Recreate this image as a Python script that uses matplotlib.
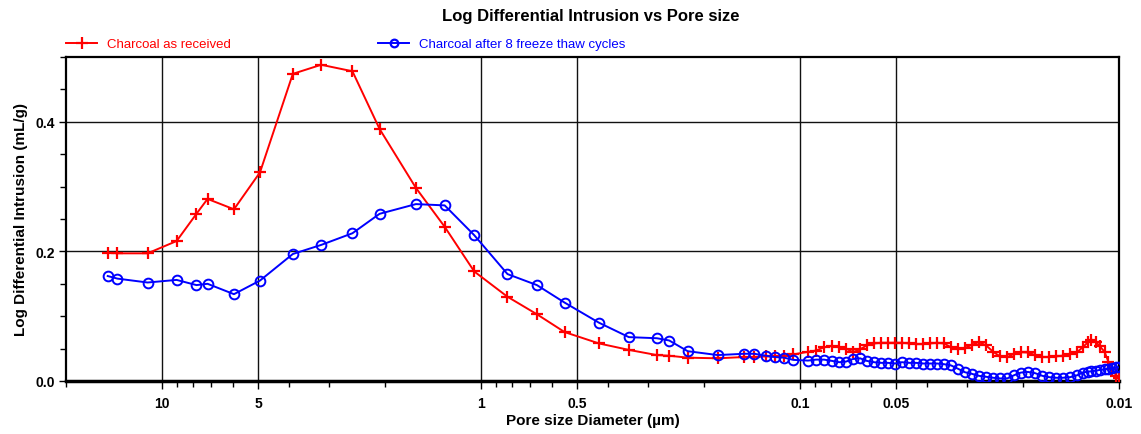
import matplotlib
matplotlib.use("Agg")
import matplotlib.pyplot as plt
from matplotlib.lines import Line2D
from matplotlib.ticker import FixedLocator, NullFormatter, MultipleLocator

plt.rcParams['font.family'] = ['Liberation Sans', 'DejaVu Sans']

title = "Log Differential Intrusion vs Pore size"
xlabel = "Pore size Diameter (µm)"
ylabel = "Log Differential Intrusion (mL/g)"
series_names = ["Charcoal as received", "Charcoal after 8 freeze thaw cycles"]

diameter = [14.8, 13.8, 11.1, 9.0, 7.8, 7.2, 5.95, 4.93, 3.89, 3.17, 2.53, 2.08,
            1.60, 1.30, 1.05, 0.826, 0.668, 0.547, 0.427, 0.344, 0.281, 0.257,
            0.225, 0.181, 0.150, 0.139, 0.128, 0.120, 0.112, 0.105,
            0.0944, 0.0891, 0.0841, 0.0793, 0.0754, 0.0717, 0.0682, 0.0648,
            0.0617, 0.0586, 0.0557, 0.0530, 0.0504, 0.0479, 0.0455, 0.0433,
            0.0411, 0.0391, 0.0372, 0.0354, 0.0336, 0.0320, 0.0304, 0.0289,
            0.0275, 0.0261, 0.0248, 0.0236, 0.0224, 0.0213, 0.0203, 0.0193,
            0.0183, 0.0174, 0.0166, 0.0158, 0.0150, 0.0142, 0.0135, 0.0130,
            0.0125, 0.0122, 0.0118, 0.0115, 0.0111, 0.0108, 0.0105, 0.0102,
            0.0100]

as_received = [0.198, 0.197, 0.197, 0.216, 0.258, 0.281, 0.265, 0.322, 0.474,
               0.488, 0.478, 0.389, 0.298, 0.238, 0.169, 0.130, 0.103, 0.0755,
               0.058, 0.048, 0.040, 0.039, 0.036, 0.035, 0.037, 0.037, 0.038,
               0.038, 0.039, 0.041,
               0.045, 0.047, 0.052, 0.054, 0.052, 0.050, 0.0445, 0.049,
               0.055, 0.058, 0.059, 0.059, 0.059, 0.059, 0.058, 0.057,
               0.057, 0.058, 0.059, 0.058, 0.052, 0.049, 0.051, 0.056,
               0.060, 0.055, 0.045, 0.038, 0.037, 0.042, 0.0445, 0.044,
               0.040, 0.037, 0.037, 0.038, 0.039, 0.042, 0.045, 0.052,
               0.060, 0.064, 0.060, 0.054, 0.045, 0.030, 0.019, 0.008,
               0.004]

after_freeze_thaw = [0.162, 0.158, 0.152, 0.156, 0.148, 0.150, 0.134, 0.155,
                     0.196, 0.210, 0.228, 0.258, 0.273, 0.271, 0.225, 0.165,
                     0.148, 0.121, 0.090, 0.0677, 0.066, 0.0625, 0.046, 0.040,
                     0.042, 0.042, 0.039, 0.037, 0.036, 0.0326,
                     0.0315, 0.033, 0.033, 0.031, 0.029, 0.030, 0.034, 0.035,
                     0.031, 0.029, 0.028, 0.028, 0.027, 0.029, 0.028, 0.028,
                     0.027, 0.027, 0.027, 0.026, 0.024, 0.019, 0.0135, 0.011,
                     0.008, 0.0065, 0.005, 0.004, 0.004, 0.009, 0.013, 0.014,
                     0.012, 0.008, 0.006, 0.005, 0.005, 0.006, 0.009, 0.013,
                     0.0145, 0.015, 0.016, 0.017, 0.018, 0.019, 0.020, 0.021,
                     0.021]

major_x = [10, 5, 1, 0.5, 0.1, 0.05, 0.01]
major_x_labels = ["10", "5", "1", "0.5", "0.1", "0.05", "0.01"]
minor_x = [20, 9, 8, 7, 6, 4, 3, 2, 0.9, 0.8, 0.7, 0.6, 0.4, 0.3, 0.2,
           0.09, 0.08, 0.07, 0.06, 0.04, 0.03, 0.02]
major_y = [0.0, 0.2, 0.4]
major_y_labels = ["0.0", "0.2", "0.4"]

fig = plt.figure(figsize=(11.41, 4.35), dpi=100)
ax = fig.add_axes([66/1141, 1-382/435, (1119-66)/1141, (382-58)/435])

ax.plot(diameter, as_received, color='#ff0000', lw=1.4, marker='+',
        markersize=8, markeredgewidth=1.6, zorder=3)
ax.plot(diameter, after_freeze_thaw, color='#0000ff', lw=1.4, marker='o',
        markersize=7, markerfacecolor='none', markeredgewidth=1.4, zorder=4)

ax.set_xscale('log')
ax.set_xlim(20, 0.01)
ax.set_ylim(0, 0.5)

ax.set_xticks(major_x)
ax.set_xticklabels(major_x_labels)
ax.xaxis.set_minor_locator(FixedLocator(minor_x))
ax.xaxis.set_minor_formatter(NullFormatter())
ax.set_yticks(major_y)
ax.set_yticklabels(major_y_labels)
ax.yaxis.set_minor_locator(MultipleLocator(0.05))

ax.grid(True, which='major', axis='both', color='#111111', lw=1.0)
ax.set_axisbelow(True)

for lab in ax.get_xticklabels() + ax.get_yticklabels():
    lab.set_fontweight('bold')
ax.tick_params(axis='x', which='major', direction='out', length=6, width=1.0,
               labelsize=10, pad=5)
ax.tick_params(axis='x', which='minor', direction='out', length=4, width=1.0)
ax.tick_params(axis='y', which='major', direction='out', length=5, width=1.0,
               labelsize=10, pad=3)
ax.tick_params(axis='y', which='minor', direction='out', length=4, width=1.0)

for side in ['top', 'left', 'right']:
    ax.spines[side].set_linewidth(1.6)
ax.spines['bottom'].set_linewidth(2.5)

ax.set_xlabel(xlabel, fontsize=11, fontweight='bold', labelpad=2)
ax.set_ylabel(ylabel, fontsize=11, fontweight='bold', labelpad=5)
fig.text(591/1141, 1-16/435, title, ha='center', va='center',
         fontsize=12, fontweight='bold')

h1 = Line2D([], [], color='#ff0000', lw=1.4, marker='+', markersize=8,
            markeredgewidth=1.6)
h2 = Line2D([], [], color='#0000ff', lw=1.4, marker='o', markersize=5.5,
            markerfacecolor='none', markeredgewidth=1.6)
leg1 = fig.legend([h1], [series_names[0]], loc='center left',
                  bbox_to_anchor=(66/1141, 1-45/435), frameon=False,
                  fontsize=9.5, handlelength=2.35, handletextpad=0.75,
                  borderaxespad=0, borderpad=0)
leg2 = fig.legend([h2], [series_names[1]], loc='center left',
                  bbox_to_anchor=(378/1141, 1-45/435), frameon=False,
                  fontsize=9.5, handlelength=2.35, handletextpad=0.75,
                  borderaxespad=0, borderpad=0)
for t in leg1.get_texts():
    t.set_color('#ff0000')
for t in leg2.get_texts():
    t.set_color('#0000ff')

fig.savefig('out.png', dpi=100)
